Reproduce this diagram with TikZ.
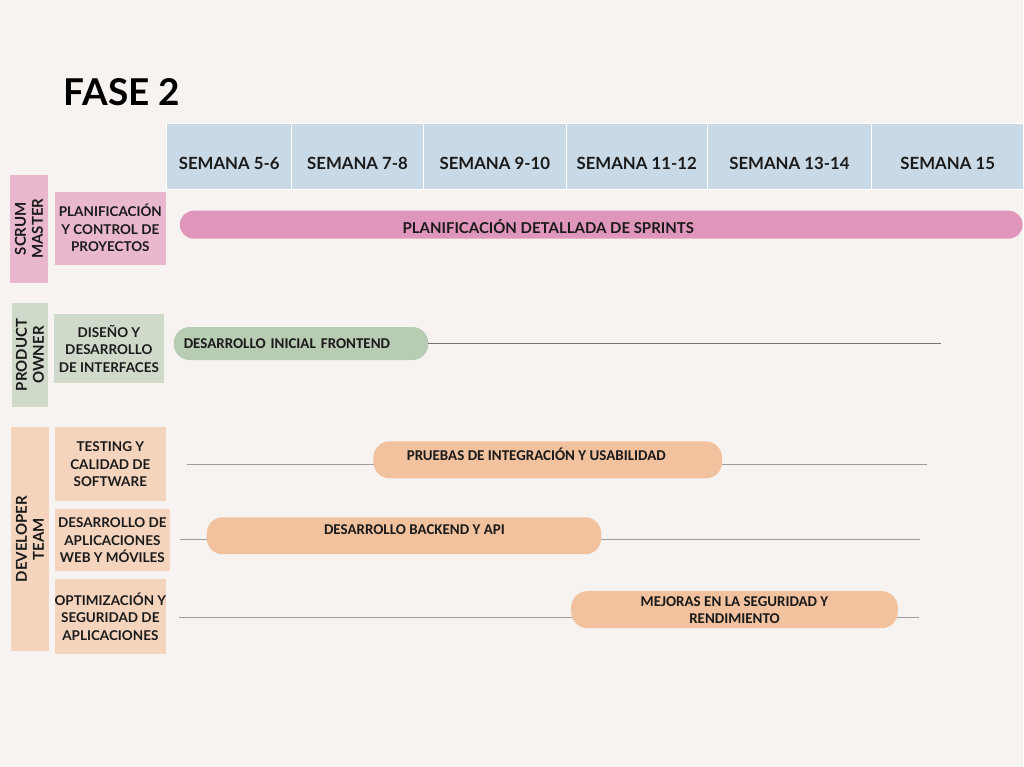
\documentclass[tikz,border=0pt]{standalone}
\usepackage{fontspec}
\setmainfont{Lato}
\newfontfamily\barfont{Carlito}
\usetikzlibrary{positioning}
\definecolor{PaperBg}{HTML}{F7F3F0}
\definecolor{WeekBlue}{HTML}{C9DAE6}
\definecolor{ScrumPink}{HTML}{E9B7CE}
\definecolor{ScrumBar}{HTML}{E096BB}
\definecolor{OwnerGreen}{HTML}{D0DACB}
\definecolor{OwnerBar}{HTML}{B8CBB3}
\definecolor{DevPeach}{HTML}{F4D4BD}
\definecolor{DevBar}{HTML}{F2C29F}
\definecolor{LineGrey}{HTML}{9E9E9E}
\definecolor{InkDark}{HTML}{1A1A1A}

\begin{document}
\begin{tikzpicture}[x=1pt,y=-1pt,
  every node/.style={text=InkDark,inner sep=0pt,outer sep=0pt},
  week/.style={fill=WeekBlue,draw=white,line width=0.8pt,minimum height=66pt,text height=26pt,text depth=0pt,font=\fontsize{16.8}{18}\selectfont\bfseries},
  role/.style={rotate=90,align=center,font=\fontsize{15}{17}\selectfont\bfseries},
  task/.style={align=center,font=\fontsize{13.5}{17.5}\selectfont\bfseries},
  bar/.style={rounded corners=16pt,minimum height=37pt},
  bartext/.style={align=center,font=\barfont\fontsize{15}{17}\selectfont\bfseries},
  timeline/.style={LineGrey,line width=1pt}]
\fill[PaperBg] (0,0) rectangle (1024,768);

\node[anchor=base west,font=\fontsize{37}{40}\selectfont\bfseries,text=black] (title) at (64,106) {FASE 2};

% semanas
\node[week,anchor=north west,minimum width=125pt] (w1) at (167,124) {SEMANA 5-6};
\node[week,minimum width=132pt,right=0pt of w1] (w2) {SEMANA 7-8};
\node[week,minimum width=143pt,right=0pt of w2] (w3) {SEMANA 9-10};
\node[week,minimum width=141pt,right=0pt of w3] (w4) {SEMANA 11-12};
\node[week,minimum width=165pt,right=0pt of w4] (w5) {SEMANA 13-14};
\node[week,minimum width=152pt,right=0pt of w5] (w6) {SEMANA 15};

% roles
\node[role,fill=ScrumPink,minimum width=108pt,minimum height=38pt] (scrum) at (29,229) {SCRUM\\MASTER};
\node[role,fill=OwnerGreen,minimum width=105pt,minimum height=36pt] (owner) at (30,355.5) {PRODUCT\\OWNER};
\node[role,fill=DevPeach,minimum width=224pt,minimum height=38pt] (devteam) at (30,540) {DEVELOPER\\TEAM};

% areas
\node[task,fill=ScrumPink,minimum width=111pt,minimum height=73pt] (planif) at (110.5,228.5) {PLANIFICACIÓN\\Y CONTROL DE\\PROYECTOS};
\node[task,fill=OwnerGreen,minimum width=110pt,minimum height=70pt] (diseno) at (109,349) {DISEÑO Y\\DESARROLLO\\DE INTERFACES};
\node[task,fill=DevPeach,minimum width=111pt,minimum height=74pt] (testing) at (110.5,465) {TESTING Y\\CALIDAD DE\\SOFTWARE};
\node[task,fill=DevPeach,minimum width=115pt,minimum height=62pt] (apps) at (112.5,541) {DESARROLLO DE\\APLICACIONES\\WEB Y MÓVILES};
\node[task,fill=DevPeach,minimum width=111pt,minimum height=75pt] (optim) at (110.5,617.5) {OPTIMIZACIÓN Y\\SEGURIDAD DE\\APLICACIONES};

% lineas de tiempo
\coordinate (pruebasL) at (187,465);
\coordinate (pruebasR) at (928,465);
\coordinate (backendL) at (180,540);
\coordinate (backendR) at (921,540);
\coordinate (mejorasL) at (179,618);
\coordinate (mejorasR) at (920,618);
\coordinate (frontR) at (942,344);
\draw[timeline] (pruebasL) -- (pruebasR);
\draw[timeline] (backendL) -- (backendR);
\draw[timeline] (mejorasL) -- (mejorasR);

% barras
\node[bar,fill=ScrumBar,rounded corners=14pt,minimum height=28pt,minimum width=844pt] (sprints) at (602,225) {};
\node[font=\fontsize{15}{16}\selectfont\bfseries] (sprintsTxt) at ([xshift=-53pt,yshift=-1.5pt]sprints.center) {PLANIFICACIÓN DETALLADA DE SPRINTS};
\node[bar,fill=OwnerBar,minimum height=33pt,minimum width=255pt,text width=235pt,bartext,align=left] (front) at (301.5,344) {DESARROLLO INICIAL FRONTEND};
\draw[timeline,black!55] (front.east) -- (frontR);
\node[bar,fill=DevBar,minimum width=349pt] (pruebas) at (548.5,460.5) {};
\node[bartext] (pruebasTxt) at ([xshift=-11.5pt,yshift=6pt]pruebas.center) {PRUEBAS DE INTEGRACIÓN Y USABILIDAD};
\node[bar,fill=DevBar,minimum width=395pt] (backend) at (404.5,536.5) {};
\node[bartext] (backendTxt) at ([xshift=10.5pt,yshift=6.5pt]backend.center) {DESARROLLO BACKEND Y API};
\node[bar,fill=DevBar,minimum width=327pt,bartext] (mejoras) at (735.5,610.5) {MEJORAS EN LA SEGURIDAD Y\\RENDIMIENTO};
\end{tikzpicture}
\end{document}
